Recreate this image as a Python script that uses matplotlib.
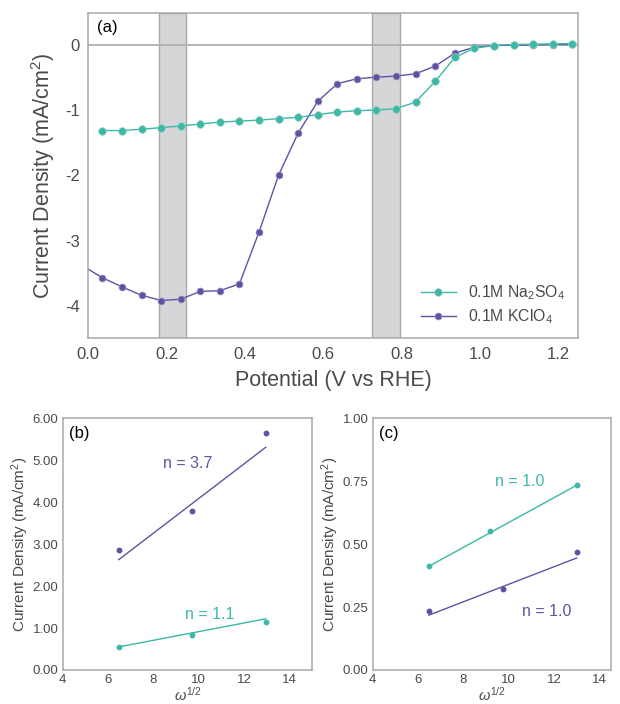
import matplotlib.pyplot as plt
import numpy as np

plt.rcParams['font.family'] = ['Liberation Sans', 'DejaVu Sans']
plt.rcParams['axes.unicode_minus'] = False
plt.rcParams['mathtext.fontset'] = 'custom'
plt.rcParams['mathtext.rm'] = 'Liberation Sans'
plt.rcParams['mathtext.it'] = 'Liberation Sans:italic'

# colori
teal = '#3bb8a8'
purple = '#5f52a3'
grey_txt = '#4a4a4a'
spine_col = '#a9a9a9'

# (a) LSV
potential = [0.036, 0.086, 0.136, 0.186, 0.236, 0.286, 0.336, 0.386, 0.436, 0.486,
             0.536, 0.586, 0.636, 0.686, 0.736, 0.786, 0.836, 0.886, 0.936, 0.986,
             1.036, 1.086, 1.136, 1.186, 1.236]
j_na2so4 = [-1.31, -1.31, -1.29, -1.265, -1.24, -1.21, -1.18, -1.165, -1.15, -1.127,
            -1.107, -1.066, -1.026, -1.005, -0.995, -0.974, -0.873, -0.556, -0.188, -0.046,
            -0.005, 0.011, 0.015, 0.021, 0.026]
potential_kclo4 = [-0.014] + potential
j_kclo4 = [-3.39, -3.57, -3.71, -3.84, -3.92, -3.90, -3.78, -3.77, -3.665, -2.87, -1.995,
           -1.348, -0.862, -0.591, -0.515, -0.49, -0.474, -0.438, -0.321, -0.122, -0.03,
           -0.005, 0.0, 0.005, 0.01, 0.012]
bands = [(0.18, 0.25), (0.725, 0.795)]

# (b) Levich
omega_b = [6.47, 9.71, 12.95]
jb_kclo4 = [2.85, 3.80, 5.66]
jb_na2so4 = [0.55, 0.83, 1.14]
fit_x_b = [6.47, 12.95]
fitb_kclo4 = [2.63, 5.31]
fitb_na2so4 = [0.55, 1.22]

# (c)
omega_c_na = [6.48, 9.19, 13.0]
omega_c_k = [6.48, 9.74, 13.0]
jc_na2so4 = [0.412, 0.552, 0.734]
jc_kclo4 = [0.233, 0.322, 0.469]
fit_x_c = [6.48, 13.0]
fitc_na2so4 = [0.412, 0.734]
fitc_kclo4 = [0.218, 0.445]


def style_axes(ax, fs):
    for s in ax.spines.values():
        s.set_color(spine_col)
        s.set_linewidth(1.1)
    ax.tick_params(length=0, labelsize=fs, colors=grey_txt, pad=6)


fig = plt.figure(figsize=(6.2, 7.04), dpi=100)

ax = fig.add_axes([0.1424, 0.5195, 0.7894, 0.4625])
for b0, b1 in bands:
    ax.axvspan(b0, b1, facecolor='#d5d6d8', edgecolor=spine_col, lw=1.0, zorder=1)
ax.axhline(0, color='#b0b0b0', lw=1.3, zorder=1)
ax.plot(potential, j_na2so4, '-o', color=teal, lw=1.0, ms=5.5, mec='#9fcfc8', mew=0.5,
        label='0.1M Na$_2$SO$_4$', zorder=3)
ax.plot(potential_kclo4, j_kclo4, '-o', color=purple, lw=1.0, ms=5, mec='#a09ac4', mew=0.5,
        label='0.1M KClO$_4$', zorder=2)
ax.set_xlim(0, 1.25)
ax.set_ylim(-4.5, 0.5)
ax.set_xticks([0.0, 0.2, 0.4, 0.6, 0.8, 1.0, 1.2])
ax.set_xticklabels(['0.0', '0.2', '0.4', '0.6', '0.8', '1.0', '1.2'])
ax.set_yticks([0, -1, -2, -3, -4])
ax.set_yticklabels(['0', '-1', '-2', '-3', '-4'])
style_axes(ax, 12)
ax.set_xlabel('Potential (V vs RHE)', fontsize=15.5, color=grey_txt, labelpad=6)
ax.set_ylabel('Current Density (mA/cm$^2$)', fontsize=15.5, color=grey_txt, labelpad=6)
ax.text(0.017, 0.955, '(a)', transform=ax.transAxes, fontsize=12, color='black', va='center')
leg = ax.legend(loc='lower right', frameon=False, fontsize=11.3, handlelength=2.2,
                borderaxespad=0.4, labelspacing=0.3)
for t in leg.get_texts():
    t.set_color(grey_txt)

# (b)
axb = fig.add_axes([0.1011, 0.0483, 0.4026, 0.3575])
axb.plot(omega_b, jb_kclo4, 'o', color=purple, ms=3.2)
axb.plot(fit_x_b, fitb_kclo4, '-', color=purple, lw=1.0)
axb.plot(omega_b, jb_na2so4, 'o', color=teal, ms=3.2)
axb.plot(fit_x_b, fitb_na2so4, '-', color=teal, lw=1.0)
axb.set_xlim(4, 15)
axb.set_ylim(0, 6)
axb.set_xticks([4, 6, 8, 10, 12, 14])
axb.set_yticks([0, 1, 2, 3, 4, 5, 6])
axb.set_yticklabels(['%.2f' % v for v in [0, 1, 2, 3, 4, 5, 6]])
style_axes(axb, 9.5)
axb.tick_params(pad=3)
axb.set_ylabel('Current Density (mA/cm$^2$)', fontsize=11, color=grey_txt, labelpad=1)
axb.set_xlabel(r'$\omega^{1/2}$', fontsize=10.5, color=grey_txt, labelpad=0)
axb.text(0.027, 0.94, '(b)', transform=axb.transAxes, fontsize=12, color='black', va='center')
axb.text(9.5, 4.93, 'n = 3.7', color=purple, fontsize=11.5, ha='center', va='center')
axb.text(10.5, 1.33, 'n = 1.1', color=teal, fontsize=11.5, ha='center', va='center')

# (c)
axc = fig.add_axes([0.6011, 0.0483, 0.3838, 0.3575])
axc.plot(omega_c_na, jc_na2so4, 'o', color=teal, ms=3.2)
axc.plot(fit_x_c, fitc_na2so4, '-', color=teal, lw=1.0)
axc.plot(omega_c_k, jc_kclo4, 'o', color=purple, ms=3.2)
axc.plot(fit_x_c, fitc_kclo4, '-', color=purple, lw=1.0)
axc.set_xlim(4, 14.5)
axc.set_ylim(0, 1)
axc.set_xticks([4, 6, 8, 10, 12, 14])
axc.set_yticks([0, 0.25, 0.5, 0.75, 1.0])
axc.set_yticklabels(['0.00', '0.25', '0.50', '0.75', '1.00'])
style_axes(axc, 9.5)
axc.tick_params(pad=3)
axc.set_ylabel('Current Density (mA/cm$^2$)', fontsize=11, color=grey_txt, labelpad=1)
axc.set_xlabel(r'$\omega^{1/2}$', fontsize=10.5, color=grey_txt, labelpad=0)
axc.text(0.027, 0.94, '(c)', transform=axc.transAxes, fontsize=12, color='black', va='center')
axc.text(10.47, 0.748, 'n = 1.0', color=teal, fontsize=11.5, ha='center', va='center')
axc.text(11.7, 0.233, 'n = 1.0', color=purple, fontsize=11.5, ha='center', va='center')

fig.savefig('out.png', dpi=100)
